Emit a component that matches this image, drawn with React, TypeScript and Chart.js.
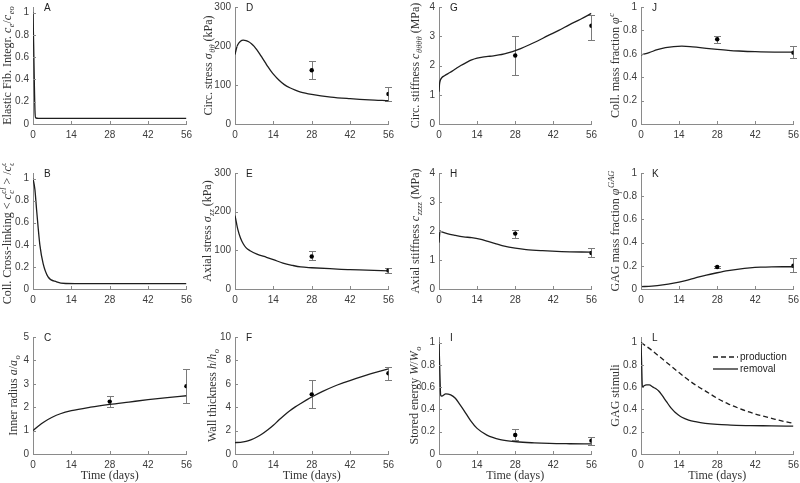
import React, { useEffect, useRef } from "react";
import { Chart, registerables } from "chart.js";
Chart.register(...registerables);

// ---------- data ----------
const xTicks = [0, 14, 28, 42, 56];
const expDays = [28, 56];
const fracTicks = [0, 0.2, 0.4, 0.6, 0.8, 1];
const stressTicks = [0, 100, 200, 300];
const stiffTicks = [0, 1, 2, 3, 4];
const radiusTicks = [0, 1, 2, 3, 4, 5];
const thickTicks = [0, 2, 4, 6, 8, 10];

// A elastic fibre integrity
const daysA = [0, 0.25, 0.5, 0.75, 1, 2, 56];
const elasticA = [1, 0.7, 0.35, 0.1, 0.055, 0.05, 0.05];

// B collagen cross-linking
const daysB = [0, 0.7, 1.3, 1.9, 2.5, 3.7, 5.5, 8.6, 12, 20, 56];
const crosslinkB = [1, 0.9, 0.72, 0.55, 0.4, 0.23, 0.11, 0.065, 0.05, 0.048, 0.048];

// C inner radius
const daysC = [0, 2, 4, 7, 10, 14, 21, 28, 35, 42, 49, 56];
const radiusC = [1.0, 1.2, 1.37, 1.57, 1.72, 1.85, 2.0, 2.12, 2.22, 2.32, 2.41, 2.49];
const expRadius = [2.24, 2.9];
const expRadiusLo = [1.99, 2.17];
const expRadiusHi = [2.5, 3.63];

// D circumferential stress
const daysD = [0, 0.5, 1, 2, 3, 4, 5, 6, 7, 8, 9, 10, 11, 12, 13, 14, 16, 18, 20, 22, 24, 28, 35, 42, 49, 56];
const circStressD = [178, 193, 203, 212, 215, 214, 211, 206, 199, 190, 180, 169, 158, 147, 137, 128, 113, 101, 93, 87, 82, 76, 69, 65, 62, 60];
const expCircStress = [138, 77];
const expCircStressLo = [115, 59];
const expCircStressHi = [161, 96];

// E axial stress
const daysE = [0, 0.5, 1, 2, 3, 4, 5.5, 8, 11.5, 14, 17.5, 21, 24, 28, 36, 42, 48, 56];
const axStressE = [190, 172, 155, 132, 117, 107, 99, 90, 82, 76, 67, 61, 57, 55, 52, 50, 49, 47];
const expAxStress = [84, 48];
const expAxStressLo = [74, 41];
const expAxStressHi = [97, 55];

// F wall thickness
const daysF = [0, 2, 4, 6, 8, 10, 12, 14, 16, 18, 20, 22, 24, 26, 28, 32, 36, 40, 44, 48, 52, 56];
const thickF = [0.98, 1.0, 1.08, 1.23, 1.45, 1.73, 2.07, 2.45, 2.9, 3.32, 3.7, 4.03, 4.32, 4.6, 4.87, 5.35, 5.77, 6.12, 6.45, 6.75, 7.02, 7.28];
const expThick = [5.1, 6.9];
const expThickLo = [3.9, 6.35];
const expThickHi = [6.33, 7.45];

// G circumferential stiffness
const daysG = [0, 0.2, 0.6, 1, 2, 4, 6, 8, 10, 12, 14, 16, 18, 20, 22, 24, 26, 28, 30, 33, 36, 40, 44, 48, 52, 56];
const circStiffG = [1.1, 1.37, 1.52, 1.58, 1.65, 1.76, 1.88, 2.0, 2.1, 2.19, 2.25, 2.29, 2.31, 2.33, 2.36, 2.4, 2.45, 2.51, 2.58, 2.7, 2.83, 3.02, 3.2, 3.4, 3.58, 3.78];
const expCircStiff = [2.34, 3.36];
const expCircStiffLo = [1.67, 2.88];
const expCircStiffHi = [3.0, 3.74];

// H axial stiffness
const daysH = [0, 0.4, 1, 3, 6, 9, 12, 15, 18, 21, 24, 28, 32, 38, 45, 56];
const axStiffH = [1.6, 2.0, 1.97, 1.91, 1.85, 1.8, 1.77, 1.72, 1.64, 1.56, 1.48, 1.41, 1.36, 1.32, 1.29, 1.27];
const expAxStiff = [1.91, 1.24];
const expAxStiffLo = [1.75, 1.09];
const expAxStiffHi = [2.02, 1.4];

// I stored energy
const daysI = [0, 0.3, 0.6, 1, 2.5, 4.3, 6, 7.5, 9.2, 11.6, 14, 17.6, 22.5, 28.5, 35, 40.6, 48, 56];
const energyI = [1, 0.75, 0.53, 0.52, 0.54, 0.53, 0.5, 0.45, 0.39, 0.3, 0.23, 0.17, 0.13, 0.11, 0.1, 0.095, 0.092, 0.09];
const expEnergy = [0.17, 0.12];
const expEnergyLo = [0.125, 0.08];
const expEnergyHi = [0.22, 0.15];

// J collagen mass fraction
const daysJ = [0, 3, 6, 9, 12, 15, 18, 21, 24, 28, 32, 36, 42, 49, 56];
const collFracJ = [0.59, 0.61, 0.635, 0.652, 0.662, 0.665, 0.662, 0.655, 0.647, 0.638, 0.63, 0.624, 0.618, 0.615, 0.615];
const expCollFrac = [0.725, 0.61];
const expCollFracLo = [0.69, 0.566];
const expCollFracHi = [0.756, 0.67];

// K GAG mass fraction
const daysK = [0, 4, 8, 12, 16, 20, 24, 28, 32, 36, 40, 44, 48, 52, 56];
const gagFracK = [0.02, 0.025, 0.035, 0.05, 0.07, 0.095, 0.12, 0.14, 0.158, 0.172, 0.182, 0.188, 0.191, 0.192, 0.192];
const expGagFrac = [0.19, 0.2];
const expGagFracLo = [0.18, 0.15];
const expGagFracHi = [0.2, 0.27];

// L GAG stimuli
const daysProd = [0, 4, 8, 12, 16, 20, 24, 28, 32, 36, 40, 44, 48, 52, 56];
const productionL = [1.0, 0.93, 0.85, 0.77, 0.69, 0.62, 0.56, 0.5, 0.45, 0.41, 0.375, 0.345, 0.32, 0.295, 0.275];
const daysRem = [0, 0.25, 0.5, 1, 2, 3, 4.4, 5.5, 6.5, 7.5, 8.5, 9.5, 10.5, 11.5, 12.5, 13.5, 15, 17.5, 20, 23.6, 28, 33, 40, 48, 56];
const removalL = [1.0, 0.8, 0.6, 0.61, 0.62, 0.62, 0.6, 0.585, 0.565, 0.535, 0.5, 0.465, 0.43, 0.4, 0.375, 0.355, 0.33, 0.305, 0.29, 0.275, 0.265, 0.26, 0.255, 0.253, 0.25];
const legendLabels = ["production", "removal"];

// ---------- layout ----------
const colX0 = [33, 235, 439, 641];
const colX1 = [187, 389, 592, 794];
const rowY0 = [5, 171, 335];
const rowY1 = [124, 289, 454];
const PAD_L = 34, PAD_R = 10, PAD_T = 8;

const AXIS = "#8a8a8a";
const TICKTXT = "#3c3c3c";
const LABELTXT = "#333333";
const LINE = "#1e1e1e";
const SANS = "'Liberation Sans', Arial, sans-serif";
const SERIF = "'Liberation Serif', 'Times New Roman', serif";

type Seg = { t: string; i?: boolean; sub?: string; sup?: string };
interface LineSpec { days: number[]; vals: number[]; dash?: number[] }
interface PanelSpec {
  letter: string; col: number; row: number;
  yMax: number; yTicks: number[];
  lines: LineSpec[];
  exp?: { vals: number[]; lo: number[]; hi: number[] };
  label: Seg[]; labelDx: number;
  legend?: string[];
}

const panels: PanelSpec[] = [
  { letter: "A", col: 0, row: 0, yMax: 1.05, yTicks: fracTicks, lines: [{ days: daysA, vals: elasticA }],
    label: [{ t: "Elastic Fib. Integr. " }, { t: "c", i: true, sub: "e" }, { t: "/" }, { t: "c", i: true, sub: "eo" }], labelDx: -26 },
  { letter: "B", col: 0, row: 1, yMax: 1.05, yTicks: fracTicks, lines: [{ days: daysB, vals: crosslinkB }],
    label: [{ t: "Coll. Cross-linking < " }, { t: "c", i: true, sub: "c", sup: "cl" }, { t: " > /" }, { t: "c", i: true, sub: "co", sup: "cl" }], labelDx: -26 },
  { letter: "C", col: 0, row: 2, yMax: 5, yTicks: radiusTicks, lines: [{ days: daysC, vals: radiusC }],
    exp: { vals: expRadius, lo: expRadiusLo, hi: expRadiusHi },
    label: [{ t: "Inner radius " }, { t: "a", i: true }, { t: "/" }, { t: "a", i: true, sub: "o" }], labelDx: -20 },
  { letter: "D", col: 1, row: 0, yMax: 300, yTicks: stressTicks, lines: [{ days: daysD, vals: circStressD }],
    exp: { vals: expCircStress, lo: expCircStressLo, hi: expCircStressHi },
    label: [{ t: "Circ. stress " }, { t: "σ", i: true, sub: "θθ" }, { t: " (kPa)" }], labelDx: -27 },
  { letter: "E", col: 1, row: 1, yMax: 300, yTicks: stressTicks, lines: [{ days: daysE, vals: axStressE }],
    exp: { vals: expAxStress, lo: expAxStressLo, hi: expAxStressHi },
    label: [{ t: "Axial stress " }, { t: "σ", i: true, sub: "zz" }, { t: " (kPa)" }], labelDx: -28 },
  { letter: "F", col: 1, row: 2, yMax: 10, yTicks: thickTicks, lines: [{ days: daysF, vals: thickF }],
    exp: { vals: expThick, lo: expThickLo, hi: expThickHi },
    label: [{ t: "Wall thickness " }, { t: "h", i: true }, { t: "/" }, { t: "h", i: true, sub: "o" }], labelDx: -23 },
  { letter: "G", col: 2, row: 0, yMax: 4, yTicks: stiffTicks, lines: [{ days: daysG, vals: circStiffG }],
    exp: { vals: expCircStiff, lo: expCircStiffLo, hi: expCircStiffHi },
    label: [{ t: "Circ. stiffness " }, { t: "c", i: true, sub: "θθθθ" }, { t: " (MPa)" }], labelDx: -24 },
  { letter: "H", col: 2, row: 1, yMax: 4, yTicks: stiffTicks, lines: [{ days: daysH, vals: axStiffH }],
    exp: { vals: expAxStiff, lo: expAxStiffLo, hi: expAxStiffHi },
    label: [{ t: "Axial stiffness " }, { t: "c", i: true, sub: "zzzz" }, { t: " (MPa)" }], labelDx: -24 },
  { letter: "I", col: 2, row: 2, yMax: 1.05, yTicks: fracTicks, lines: [{ days: daysI, vals: energyI }],
    exp: { vals: expEnergy, lo: expEnergyLo, hi: expEnergyHi },
    label: [{ t: "Stored energy " }, { t: "W", i: true }, { t: "/" }, { t: "W", i: true, sub: "o" }], labelDx: -25 },
  { letter: "J", col: 3, row: 0, yMax: 1, yTicks: fracTicks, lines: [{ days: daysJ, vals: collFracJ }],
    exp: { vals: expCollFrac, lo: expCollFracLo, hi: expCollFracHi },
    label: [{ t: "Coll. mass fraction " }, { t: "φ", i: true, sup: "c" }], labelDx: -26 },
  { letter: "K", col: 3, row: 1, yMax: 1, yTicks: fracTicks, lines: [{ days: daysK, vals: gagFracK }],
    exp: { vals: expGagFrac, lo: expGagFracLo, hi: expGagFracHi },
    label: [{ t: "GAG mass fraction " }, { t: "φ", i: true, sup: "GAG" }], labelDx: -26 },
  { letter: "L", col: 3, row: 2, yMax: 1.05, yTicks: fracTicks,
    lines: [{ days: daysProd, vals: productionL, dash: [5, 3] }, { days: daysRem, vals: removalL }],
    label: [{ t: "GAG stimuli" }], labelDx: -26, legend: legendLabels },
];

function drawRich(ctx: CanvasRenderingContext2D, segs: Seg[], cx: number, cy: number) {
  const size = 12, small = 8.5;
  const f = (it: boolean, s: number) => `${it ? "italic " : ""}${s}px ${SERIF}`;
  const widths = segs.map((s) => {
    ctx.font = f(!!s.i, size);
    const w = ctx.measureText(s.t).width;
    let ws = 0;
    ctx.font = f(!!s.i, small);
    if (s.sub) ws = Math.max(ws, ctx.measureText(s.sub).width);
    if (s.sup) ws = Math.max(ws, ctx.measureText(s.sup).width);
    return w + ws + (ws ? 0.5 : 0);
  });
  const total = widths.reduce((a, b) => a + b, 0);
  ctx.save();
  ctx.translate(cx, cy);
  ctx.rotate(-Math.PI / 2);
  ctx.fillStyle = LABELTXT;
  ctx.textBaseline = "alphabetic";
  ctx.textAlign = "left";
  let x = -total / 2;
  const base = 4;
  segs.forEach((s, k) => {
    ctx.font = f(!!s.i, size);
    ctx.fillText(s.t, x, base);
    const w = ctx.measureText(s.t).width + 0.5;
    ctx.font = f(!!s.i, small);
    if (s.sub) ctx.fillText(s.sub, x + w, base + 3);
    if (s.sup) ctx.fillText(s.sup, x + w, base - 5.5);
    x += widths[k];
  });
  ctx.restore();
}

function Panel({ p }: { p: PanelSpec }) {
  const ref = useRef<HTMLCanvasElement>(null);
  const x0 = colX0[p.col], x1 = colX1[p.col], y0 = rowY0[p.row], y1 = rowY1[p.row];
  const padB = p.row === 2 ? 30 : 24;
  const left = x0 - PAD_L, top = y0 - PAD_T;
  const W = x1 - x0 + PAD_L + PAD_R;
  const H = y1 - y0 + PAD_T + padB;

  useEffect(() => {
    if (!ref.current) return;
    const datasets: any[] = p.lines.map((l) => ({
      data: l.days.map((d, i) => ({ x: d, y: l.vals[i] })),
      borderColor: LINE, borderWidth: 1.3, pointRadius: 0,
      cubicInterpolationMode: "monotone", borderDash: l.dash || [], fill: false,
    }));
    if (p.exp) {
      datasets.push({
        data: expDays.map((d, i) => ({ x: d, y: p.exp!.vals[i] })),
        showLine: false, pointRadius: 2.2, pointBackgroundColor: "#000", pointBorderColor: "#000", borderWidth: 0,
      });
    }
    const decor = {
      id: "decor" + p.letter,
      beforeDatasetsDraw(chart: any) {
        if (!p.exp) return;
        const ctx = chart.ctx, xs = chart.scales.x, ys = chart.scales.y;
        ctx.save();
        ctx.strokeStyle = "#7a7a7a"; ctx.lineWidth = 1;
        expDays.forEach((d, i) => {
          const px = Math.round(xs.getPixelForValue(d)) + 0.5;
          const pt = Math.round(ys.getPixelForValue(p.exp!.hi[i])) + 0.5;
          const pb = Math.round(ys.getPixelForValue(p.exp!.lo[i])) + 0.5;
          ctx.beginPath();
          ctx.moveTo(px, pt); ctx.lineTo(px, pb);
          ctx.moveTo(px - 3.5, pt); ctx.lineTo(px + 3.5, pt);
          ctx.moveTo(px - 3.5, pb); ctx.lineTo(px + 3.5, pb);
          ctx.stroke();
        });
        ctx.restore();
      },
      afterDraw(chart: any) {
        const ctx = chart.ctx, xs = chart.scales.x, ys = chart.scales.y, ca = chart.chartArea;
        ctx.save();
        ctx.strokeStyle = AXIS; ctx.lineWidth = 1;
        ctx.beginPath();
        xTicks.forEach((v) => {
          const px = Math.round(xs.getPixelForValue(v)) + 0.5;
          ctx.moveTo(px, ca.bottom); ctx.lineTo(px, ca.bottom - 3);
        });
        p.yTicks.forEach((v) => {
          const py = Math.round(ys.getPixelForValue(v)) + 0.5;
          ctx.moveTo(ca.left, py); ctx.lineTo(ca.left + 3, py);
        });
        ctx.stroke();
        ctx.fillStyle = "#222";
        ctx.font = `10px ${SANS}`;
        ctx.textBaseline = "middle"; ctx.textAlign = "left";
        ctx.fillText(p.letter, ca.left + 11, ca.top + 1);
        drawRich(ctx, p.label, ca.left + p.labelDx, (ca.top + ca.bottom) / 2);
        if (p.row === 2) {
          ctx.fillStyle = LABELTXT;
          ctx.font = `12px ${SERIF}`;
          ctx.textAlign = "center"; ctx.textBaseline = "middle";
          ctx.fillText("Time (days)", (ca.left + ca.right) / 2, ca.bottom + 22);
        }
        if (p.legend) {
          ctx.strokeStyle = LINE; ctx.lineWidth = 1.3;
          p.legend.forEach((txt, k) => {
            const ly = ca.top + 20 + k * 12;
            ctx.setLineDash(k === 0 ? [5, 3] : []);
            ctx.beginPath(); ctx.moveTo(ca.left + 72, ly); ctx.lineTo(ca.left + 97, ly); ctx.stroke();
            ctx.setLineDash([]);
            ctx.fillStyle = "#222";
            ctx.font = `10px ${SANS}`;
            ctx.textAlign = "left"; ctx.textBaseline = "middle";
            ctx.fillText(txt, ca.left + 99, ly);
          });
        }
        ctx.restore();
      },
    };
    const tickFont = { family: SANS, size: 10 };
    const chart = new Chart(ref.current, {
      type: "line",
      data: { datasets },
      options: {
        responsive: false, maintainAspectRatio: false, animation: false,
        layout: { padding: { top: PAD_T, right: PAD_R, left: 0, bottom: 0 } },
        plugins: { legend: { display: false }, tooltip: { enabled: false } },
        scales: {
          x: {
            type: "linear", min: 0, max: 56,
            afterBuildTicks: (s: any) => { s.ticks = xTicks.map((v) => ({ value: v })); },
            afterFit: (s: any) => { s.height = padB; },
            grid: { display: false, drawTicks: false },
            border: { display: true, color: AXIS, width: 1 },
            ticks: { font: tickFont, color: TICKTXT, padding: 5, maxRotation: 0, autoSkip: false, callback: (v: any) => String(v) },
          },
          y: {
            type: "linear", min: 0, max: p.yMax,
            afterBuildTicks: (s: any) => { s.ticks = p.yTicks.map((v) => ({ value: v })); },
            afterFit: (s: any) => { s.width = PAD_L; },
            grid: { display: false, drawTicks: false },
            border: { display: true, color: AXIS, width: 1 },
            ticks: { font: tickFont, color: TICKTXT, padding: 4, autoSkip: false, callback: (v: any) => String(v) },
          },
        },
      } as any,
      plugins: [decor],
    } as any);
    return () => chart.destroy();
  }, []);

  return (
    <canvas ref={ref} width={W} height={H}
      style={{ position: "absolute", left, top, width: W, height: H }} />
  );
}

export default function App() {
  return (
    <div style={{ position: "fixed", left: 0, top: 0, width: 800, height: 483, background: "#fff", overflow: "hidden" }}>
      {panels.map((p) => <Panel key={p.letter} p={p} />)}
    </div>
  );
}
